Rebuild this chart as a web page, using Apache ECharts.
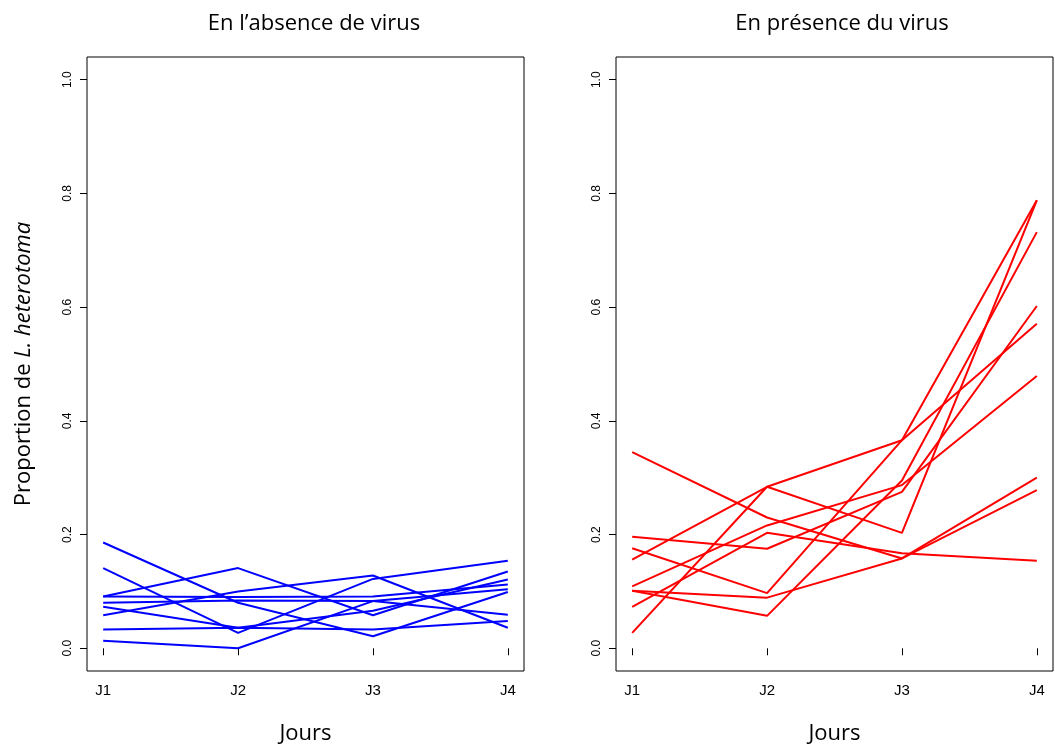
<!DOCTYPE html>
<html>
<head>
<meta charset="utf-8">
<script src="https://cdn.jsdelivr.net/npm/echarts@6/dist/echarts.min.js"></script>
<style>
html,body{margin:0;padding:0;background:#fff;}
#chart{width:1055px;height:747px;}
</style>
</head>
<body>
<div id="chart"></div>
<script>
// ---- data ----
const categories = ['J1', 'J2', 'J3', 'J4'];
const yTicks = [0, 0.2, 0.4, 0.6, 0.8, 1.0];
const titleLeft = 'En l\u2019absence de virus';
const titleRight = 'En présence du virus';
const xName = 'Jours';

// Absence of virus (blue), one array per replicate, values J1..J4
const abs1 = [0.186, 0.080, 0.021, 0.099];
const abs2 = [0.141, 0.027, 0.122, 0.154];
const abs3 = [0.091, 0.090, 0.091, 0.112];
const abs4 = [0.091, 0.141, 0.058, 0.135];
const abs5 = [0.080, 0.084, 0.083, 0.059];
const abs6 = [0.073, 0.036, 0.066, 0.121];
const abs7 = [0.058, 0.100, 0.128, 0.036];
const abs8 = [0.033, 0.036, 0.033, 0.048];
const abs9 = [0.013, 0.000, 0.083, 0.104];

// Presence of virus (red)
const pres1 = [0.345, 0.230, 0.158, 0.300];
const pres2 = [0.101, 0.089, 0.158, 0.278];
const pres3 = [0.196, 0.175, 0.275, 0.602];
const pres4 = [0.176, 0.097, 0.366, 0.788];
const pres5 = [0.156, 0.284, 0.366, 0.571];
const pres6 = [0.027, 0.284, 0.203, 0.788];
const pres7 = [0.109, 0.216, 0.287, 0.479];
const pres8 = [0.073, 0.203, 0.167, 0.154];
const pres9 = [0.101, 0.057, 0.295, 0.732];

const absenceLines = [abs1, abs2, abs3, abs4, abs5, abs6, abs7, abs8, abs9];
const presenceLines = [pres1, pres2, pres3, pres4, pres5, pres6, pres7, pres8, pres9];

// ---- chart ----
const xPositions = categories.map((c, i) => i + 1);
const labelFont = 'Liberation Sans, Arial, sans-serif';
const titleFont = '"Open Sans", Lato, sans-serif';

function makeX(gridIndex) {
  return {
    type: 'value', gridIndex: gridIndex, min: 0.88, max: 4.12,
    name: xName, nameLocation: 'middle', nameGap: 52,
    nameTextStyle: { fontFamily: titleFont, fontSize: 22, color: '#000' },
    axisLine: { show: false },
    axisTick: { show: true, inside: false, length: 7, customValues: xPositions,
                lineStyle: { color: '#000', width: 1 } },
    axisLabel: { show: true, customValues: xPositions, margin: 12,
                 fontFamily: labelFont, fontSize: 15, color: '#000',
                 formatter: v => categories[Math.round(v) - 1] || '' },
    splitLine: { show: false }
  };
}
function makeY(gridIndex, withName) {
  const y = {
    type: 'value', gridIndex: gridIndex, min: -0.04, max: 1.04,
    axisLine: { show: false },
    axisTick: { show: true, inside: false, length: 7, customValues: yTicks,
                lineStyle: { color: '#000', width: 1 } },
    axisLabel: { show: true, customValues: yTicks, rotate: 90, margin: 13,
                 fontFamily: labelFont, fontSize: 12, color: '#000',
                 formatter: v => v.toFixed(1) },
    splitLine: { show: false }
  };
  if (withName) {
    y.name = '{n|Proportion de }{i|L. heterotoma}';
    y.nameLocation = 'middle';
    y.nameGap = 52;
    y.nameRotate = 90;
    y.nameTextStyle = {
      rich: {
        n: { fontFamily: titleFont, fontSize: 22, color: '#000' },
        i: { fontFamily: titleFont, fontSize: 22, color: '#000', fontStyle: 'italic' }
      }
    };
  }
  return y;
}

const series = [];
absenceLines.forEach((arr, k) => {
  series.push({
    type: 'line', xAxisIndex: 0, yAxisIndex: 0, symbol: 'none',
    data: arr.map((v, i) => [xPositions[i], v]),
    lineStyle: { color: '#0000FF', width: 2 }, silent: true, z: 2 + k
  });
});
presenceLines.forEach((arr, k) => {
  series.push({
    type: 'line', xAxisIndex: 1, yAxisIndex: 1, symbol: 'none',
    data: arr.map((v, i) => [xPositions[i], v]),
    lineStyle: { color: '#FF0000', width: 2 }, silent: true, z: 2 + k
  });
});

const chart = echarts.init(document.getElementById('chart'), null, { renderer: 'canvas' });
chart.setOption({
  animation: false,
  backgroundColor: '#fff',
  title: [
    { text: titleLeft, left: 309, top: 8, textAlign: 'center',
      textStyle: { fontFamily: titleFont, fontSize: 22, fontWeight: 'normal', color: '#000' } },
    { text: titleRight, left: 837, top: 8, textAlign: 'center',
      textStyle: { fontFamily: titleFont, fontSize: 22, fontWeight: 'normal', color: '#000' } }
  ],
  grid: [
    { left: 87, top: 57, width: 437, height: 614, show: true, borderColor: '#000', borderWidth: 1,
      backgroundColor: 'transparent', containLabel: false, outerBoundsMode: 'none' },
    { left: 616, top: 57, width: 437, height: 614, show: true, borderColor: '#000', borderWidth: 1,
      backgroundColor: 'transparent', containLabel: false, outerBoundsMode: 'none' }
  ],
  xAxis: [makeX(0), makeX(1)],
  yAxis: [makeY(0, true), makeY(1, false)],
  series: series
});
</script>
</body>
</html>
